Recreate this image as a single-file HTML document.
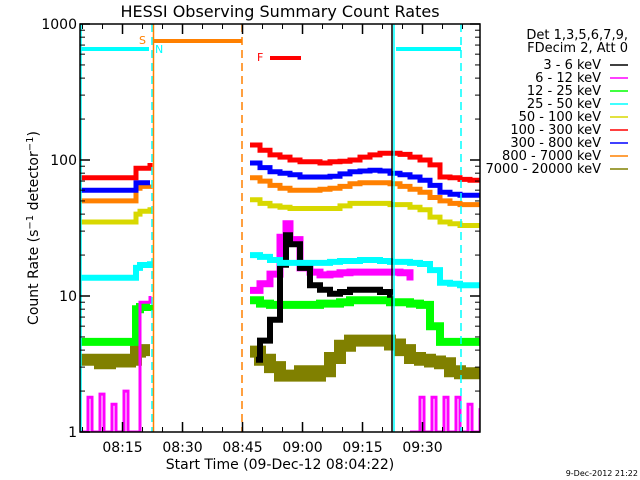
<!DOCTYPE html>
<html><head><meta charset="utf-8"><style>
body{margin:0;background:#fff;}
svg{display:block;font-family:"DejaVu Sans","Liberation Sans",sans-serif;}
</style></head><body>
<svg id="c" width="640" height="480" viewBox="0 0 640 480">
<defs><clipPath id="pc"><rect x="80" y="24" width="400" height="408"/></clipPath></defs>
<rect width="640" height="480" fill="#fff"/>
<text x="280" y="17" font-size="16" text-anchor="middle">HESSI Observing Summary Count Rates</text>
<g id="marks" clip-path="url(#pc)"></g>
<g id="axes"></g>
<text transform="translate(38,228) rotate(-90)" font-size="14" text-anchor="middle">Count Rate (s<tspan dy="-5" font-size="10">−1</tspan><tspan dy="5"> detector</tspan><tspan dy="-5" font-size="10">−1</tspan><tspan dy="5">)</tspan></text>
<text x="280" y="469" font-size="14" text-anchor="middle">Start Time (09-Dec-12 08:04:22)</text>
<text x="638" y="476" font-size="8" text-anchor="end">9-Dec-2012 21:22</text>
<g id="legend" font-size="13"></g>
</svg>
<script>
// time in minutes since 08:04:22
const t1 = [0, 2.5, 5, 7.5, 10, 12.5, 14, 15, 17.5];
const t2 = [42.5,45,47.5,50,52.5,55,57.5,60,62.5,65,67.5,70,72.5,75,77.5,80,82.5,85,87.5,90,92.5,95,97.5,100];
const red1 = [74,74,74,74,74,74,87,87,95];
const red2 = [129,118,109,105,100,97,97,95,97,98,100,105,109,112,112,110,105,100,92,75,74,72,71,71];
const blue1 = [60,60,60,60,60,60,68,68,68];
const blue2 = [95,88,82,80,78,75,75,75,76,79,82,83,84,83,80,78,75,71,65,58,56,55,55,55];
const orange1 = [50,50,50,50,50,50,62,64,66];
const orange2 = [74,70,65,62,60,60,60,61,62,64,67,68,68,68,67,64,61,58,53,50,48,47,47,47];
const yellow1 = [35,35,35,35,35,35,40,42,45];
const yellow2 = [51,48,46,45,44,44,44,44,44,46,48,48,48,48,47,47,45,43,38,35,34,33,33,33];
const cyan1 = [13.6,13.6,13.6,13.6,13.6,13.6,16.1,16.9,18];
const cyan2 = [20,19.4,18.4,17.5,17.5,17.5,17.5,17.5,17.8,18.1,18.1,18.4,18.4,18.1,17.8,17.8,17.5,17.2,15.5,12.5,12.3,12,12,12];
const magT1 = [0, 2, 3, 5, 6, 8, 9, 11, 12, 14, 15, 17.5];
const mag1 = [1, 1.8, 1, 1.9, 1, 1.6, 1, 2, 1, 1, 9, 10];
const magT2 = [42.5,45,47.5,50,51.5,52.5,55,57.5,60,62.5,65,67.5,70,72.5,75,77.5,80,82.5];
const mag2 = [11,12.3,14.5,27,34,26,16.1,15,14.3,14.5,14.8,15,15,15,15,15,14.8,13];
const magT3 = [82.5,85,86,88,89,91,92,94,95,97,98,100];
const mag3 = [1,1.8,1,1.8,1,1.8,1,1.8,1,1.6,1,1.5];
const blkT = [44,45,47.5,50,51.5,52.5,55,57.5,60,62.5,65,67.5,70,72.5,75,77.5,78];
const blk2 = [3.4,4.7,6.7,17,28,24,16.1,12,11.1,10.4,10.7,11.1,11.1,11.1,10.7,10.2,10.2];
const green1 = [4.6,4.6,4.6,4.6,4.6,4.6,8,8.3,8.6];
const green2 = [9.3,8.8,8.6,8.6,8.6,8.6,8.6,8.8,8.8,9,9.3,9.3,9.3,9.3,9,9,8.8,8.6,6,4.6,4.6,4.6,4.6,4.6];
const olive1 = [3.4,3.4,3.2,3.4,3.3,3.4,3.9,4,4];
const olive2 = [3.9,3.4,3,2.6,2.6,2.8,2.6,2.8,3.5,4.3,4.7,4.7,4.7,4.7,4.4,4,3.5,3.4,3.3,3.2,2.8,2.7,2.7,3];
const yTicksMajor = [1,10,100,1000];
const yTickLabels = ["1","10","100","1000"];
const xTickMin = [10.63,25.63,40.63,55.63,70.63,85.63];
const xTickLabels = ["08:15","08:30","08:45","09:00","09:15","09:30"];
const legendLabels = ["3 - 6 keV","6 - 12 keV","12 - 25 keV","25 - 50 keV","50 - 100 keV","100 - 300 keV","300 - 800 keV","800 - 7000 keV","7000 - 20000 keV"];
const legendColors = ["#000000","#ff00ff","#00ff00","#00ffff","#d8d800","#ff0000","#0000ff","#ff8000","#808000"];

const L=80,R=480,T=24,B=432;
const x = t => L + (t/100)*(R-L);
const y = v => B - (B-T)*Math.log10(v)/3;
const NS="http://www.w3.org/2000/svg";
function mk(tag, attrs, parent){const e=document.createElementNS(NS,tag);for(const k in attrs)e.setAttribute(k,attrs[k]);parent.appendChild(e);return e;}
const marks=document.getElementById('marks'), axes=document.getElementById('axes'), leg=document.getElementById('legend');

function series(ts, vs, color, w, name){
  let d='';
  ts.forEach((t,i)=>{const px=x(t),py=y(vs[i]);
    if(i===0)d+='M'+px.toFixed(1)+','+py.toFixed(1);
    else d+='H'+px.toFixed(1)+'V'+py.toFixed(1);});
  const p=mk('path',{d:d,fill:'none',stroke:color,'stroke-width':w},marks);
  
  
}
series(t1,olive1,'#808000',12,'series-7000-20000kev-seg1');
series(t2,olive2,'#808000',12,'series-7000-20000kev-seg2');
series(t1,green1,'#00ff00',8,'series-12-25kev-seg1');
series(t2,green2,'#00ff00',8,'series-12-25kev-seg2');
series(magT1,mag1,'#ff00ff',3,'series-6-12kev-seg1');
series(magT2,mag2,'#ff00ff',7,'series-6-12kev-seg2');
series(magT3,mag3,'#ff00ff',3,'series-6-12kev-seg3');
series(blkT,blk2,'#000000',6,'series-3-6kev');
series(t1,cyan1,'#00ffff',6,'series-25-50kev-seg1');
series(t2,cyan2,'#00ffff',6,'series-25-50kev-seg2');
series(t1,yellow1,'#d8d800',5,'series-50-100kev-seg1');
series(t2,yellow2,'#d8d800',5,'series-50-100kev-seg2');
series(t1,orange1,'#ff8000',5,'series-800-7000kev-seg1');
series(t2,orange2,'#ff8000',5,'series-800-7000kev-seg2');
series(t1,blue1,'#0000ff',5,'series-300-800kev-seg1');
series(t2,blue2,'#0000ff',5,'series-300-800kev-seg2');
series(t1,red1,'#ff0000',5,'series-100-300kev-seg1');
series(t2,red2,'#ff0000',5,'series-100-300kev-seg2');

// vertical markers
function vline(px,color,dash,name){const l=mk('line',{x1:px,x2:px,y1:T,y2:B,stroke:color,'stroke-width':1.5},marks);if(dash)l.setAttribute('stroke-dasharray',dash);}
vline(81,'#00ffff',null,'saa-start-line');
vline(152,'#00ffff','8,5','saa-end-line');
vline(153.5,'#ff8000',null,'night-start-line');
vline(242,'#ff8000','8,5','night-end-line');
vline(392,'#000000',null,'data-end-line');
vline(394,'#00ffff',null,'saa2-start-line');
vline(461,'#00ffff','8,5','saa2-end-line');
function hbar(x1,x2,yy,color,name){const l=mk('line',{x1:x1,x2:x2,y1:yy,y2:yy,stroke:color,'stroke-width':4},marks);}
hbar(81,149,49,'#00ffff','saa-bar-1');
hbar(396,461,49,'#00ffff','saa-bar-2');
hbar(154,242,41,'#ff8000','night-bar');
hbar(270,301,58,'#ff0000','flare-bar');
function lab(tx,xx,yy,color,name){const e=mk('text',{x:xx,y:yy,fill:color,'font-size':11},marks);e.textContent=tx;}
lab('S',139,44,'#ff8000','s-label');
lab('N',155,53,'#00ffff','n-label');
lab('F',257,61,'#ff0000','f-label');

// axes frame
const fr=mk('rect',{x:L,y:T,width:R-L,height:B-T,fill:'none',stroke:'#000','stroke-width':1.5},axes);

for(let d=0; d<3; d++){
  for(let m=2;m<=9;m++){const v=m*Math.pow(10,d);const py=y(v);
    mk('line',{x1:L,x2:L+5,y1:py,y2:py,stroke:'#000'},axes);
    mk('line',{x1:R,x2:R-5,y1:py,y2:py,stroke:'#000'},axes);}
}
yTicksMajor.forEach((v,i)=>{const py=y(v);
  mk('line',{x1:L,x2:L+10,y1:py,y2:py,stroke:'#000','stroke-width':1.5},axes);
  mk('line',{x1:R,x2:R-10,y1:py,y2:py,stroke:'#000','stroke-width':1.5},axes);
  const e=mk('text',{x:L-3,y:py+5,'font-size':14,'text-anchor':'end'},axes);e.textContent=yTickLabels[i];
  });
for(let t=0.63;t<100;t+=5){const px=x(t);
  mk('line',{x1:px,x2:px,y1:B,y2:B-5,stroke:'#000'},axes);
  mk('line',{x1:px,x2:px,y1:T,y2:T+5,stroke:'#000'},axes);}
xTickMin.forEach((t,i)=>{const px=x(t);
  mk('line',{x1:px,x2:px,y1:B,y2:B-10,stroke:'#000','stroke-width':1.5},axes);
  mk('line',{x1:px,x2:px,y1:T,y2:T+10,stroke:'#000','stroke-width':1.5},axes);
  const e=mk('text',{x:px,y:452,'font-size':14,'text-anchor':'middle'},axes);e.textContent=xTickLabels[i];
  });

// legend
const h1=mk('text',{x:628,y:39,'text-anchor':'end'},leg);h1.textContent='Det 1,3,5,6,7,9,';

const h2=mk('text',{x:628,y:52,'text-anchor':'end'},leg);h2.textContent='FDecim 2, Att 0';

legendLabels.forEach((s,i)=>{const yy=65+i*13;
  const e=mk('text',{x:601,y:yy+4,'text-anchor':'end'},leg);e.textContent=s;
  
  mk('line',{x1:610,x2:628,y1:yy,y2:yy,stroke:legendColors[i],'stroke-width':1.5},leg);});
</script>
</body></html>
